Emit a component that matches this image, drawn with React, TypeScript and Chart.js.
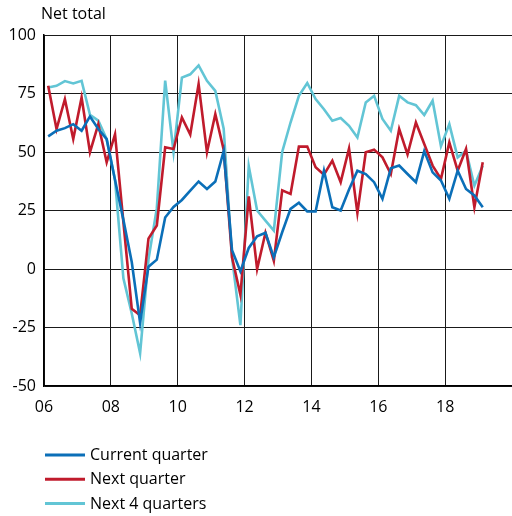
import React, { useEffect, useRef } from 'react';
import { Chart, registerables } from 'chart.js';

Chart.register(...registerables);

// Quarterly observations 2006Q1 .. 2019Q1
const quarterLabels: string[] = [
  '2006Q1','2006Q2','2006Q3','2006Q4','2007Q1','2007Q2','2007Q3','2007Q4',
  '2008Q1','2008Q2','2008Q3','2008Q4','2009Q1','2009Q2','2009Q3','2009Q4',
  '2010Q1','2010Q2','2010Q3','2010Q4','2011Q1','2011Q2','2011Q3','2011Q4',
  '2012Q1','2012Q2','2012Q3','2012Q4','2013Q1','2013Q2','2013Q3','2013Q4',
  '2014Q1','2014Q2','2014Q3','2014Q4','2015Q1','2015Q2','2015Q3','2015Q4',
  '2016Q1','2016Q2','2016Q3','2016Q4','2017Q1','2017Q2','2017Q3','2017Q4',
  '2018Q1','2018Q2','2018Q3','2018Q4','2019Q1',
];

const currentQuarter: number[] = [
  56.7, 59.1, 60.2, 61.9, 59.1, 65.2, 59.8, 55.5,
  38, 21, 3, -23, 1, 4, 22, 26.5,
  29.5, 33.5, 37.4, 34.2, 37.4, 50.4, 8, -1,
  9, 14, 15.5, 5, 15.7, 25.7, 28.3, 24.6,
  24.6, 42, 26.4, 25, 34, 42, 40.6, 37.1,
  30, 43, 44.2, 40.6, 37.1, 50.4, 41.3, 37.8,
  30, 42, 34.2, 31.4, 26.4,
];

const nextQuarter: number[] = [
  78.3, 59.8, 72.6, 55.5, 73.3, 49.9, 61.9, 45.6,
  57.6, 20, -17, -19.8, 13, 18.6, 52, 51.3,
  64.8, 57.5, 79, 49.9, 66.2, 51, 5, -11,
  31, 0, 15.5, 3.5, 33.6, 32.1, 52.3, 52.3,
  43.5, 40.3, 46.3, 37.1, 51.5, 24, 49.9, 51,
  47.7, 40.6, 59.8, 49, 62.6, 53.4, 44.2, 38.5,
  54.1, 42, 51.3, 26.4, 45.6,
];

const next4Quarters: number[] = [
  77.6, 78.3, 80.3, 79.3, 80.4, 65.9, 63.4, 55.5,
  38, -4, -19, -36, 4, 26, 80.5, 50,
  81.8, 83.2, 87, 80.4, 76.1, 60, 5, -24,
  44, 25, 20.7, 16.4, 50, 62.6, 74, 79.5,
  72.6, 68.3, 63.4, 64.5, 61.2, 56.2, 71.2, 74,
  64.1, 59.1, 74, 71.2, 70, 65.8, 71.9, 52.5,
  61.9, 47.7, 50.5, 35.6, 44.1,
];

const seriesNames: string[] = ['Current quarter', 'Next quarter', 'Next 4 quarters'];
const seriesColors: string[] = ['#0B6FB8', '#C01B2C', '#62C5D5'];
const xTickYears: number[] = [2006, 2008, 2010, 2012, 2014, 2016, 2018];
const xTickLabels: string[] = ['06', '08', '10', '12', '14', '16', '18'];
const yTicks: number[] = [-50, -25, 0, 25, 50, 75, 100];
const yAxisTitle = 'Net total';

const FONT = '"Open Sans", "Noto Sans", sans-serif';

function quarterToX(label: string): number {
  const year = parseInt(label.slice(0, 4), 10);
  const q = parseInt(label.slice(5), 10);
  return year + (q - 0.5) / 4;
}

function toPoints(values: number[]) {
  return values.map((v, i) => ({ x: quarterToX(quarterLabels[i]), y: v }));
}

const overlayPlugin = {
  id: 'overlayText',
  afterDraw(chart: any) {
    const ctx = chart.ctx as CanvasRenderingContext2D;
    ctx.save();
    ctx.fillStyle = '#000';
    ctx.font = `16px ${FONT}`;
    ctx.textBaseline = 'middle';
    ctx.textAlign = 'left';
    ctx.fillText(yAxisTitle, 41, 14);
    chart.data.datasets.forEach((ds: any, i: number) => {
      const y = 455 + i * 24.3;
      ctx.strokeStyle = ds.borderColor;
      ctx.lineWidth = 3;
      ctx.beginPath();
      ctx.moveTo(45, y);
      ctx.lineTo(85, y);
      ctx.stroke();
      ctx.fillText(ds.label, 90, y + 0.5);
    });
    ctx.restore();
  },
};

export default function App() {
  const canvasRef = useRef<HTMLCanvasElement | null>(null);

  useEffect(() => {
    if (!canvasRef.current) return;
    const seriesValues = [currentQuarter, nextQuarter, next4Quarters];
    const chart = new Chart(canvasRef.current, {
      type: 'line',
      data: {
        datasets: seriesValues.map((vals, i) => ({
          label: seriesNames[i],
          data: toPoints(vals),
          borderColor: seriesColors[i],
          backgroundColor: seriesColors[i],
          borderWidth: 2.6,
          pointRadius: 0,
          tension: 0,
          fill: false,
        })),
      },
      options: {
        animation: false,
        responsive: false,
        devicePixelRatio: 1,
        layout: { padding: { top: 35, right: 0, bottom: 90, left: 0 } },
        plugins: {
          legend: { display: false },
          tooltip: { enabled: false },
          title: { display: false },
        },
        scales: {
          x: {
            type: 'linear',
            min: 2006,
            max: 2020,
            afterBuildTicks: (scale: any) => {
              scale.ticks = xTickYears.map((v) => ({ value: v }));
            },
            afterFit: (scale: any) => {
              scale.height = 40;
            },
            ticks: {
              padding: 12,
              color: '#000',
              font: { family: FONT, size: 16 },
              maxRotation: 0,
              autoSkip: false,
              callback: (value: any) => {
                const idx = xTickYears.indexOf(Number(value));
                return idx >= 0 ? xTickLabels[idx] : '';
              },
            },
            grid: { color: '#1a1a1a', lineWidth: 1, drawTicks: false },
            border: { display: true, color: '#000', width: 1.5 },
          },
          y: {
            type: 'linear',
            min: -50,
            max: 100,
            afterBuildTicks: (scale: any) => {
              scale.ticks = yTicks.map((v) => ({ value: v }));
            },
            afterFit: (scale: any) => {
              scale.width = 44;
            },
            ticks: {
              padding: 8,
              color: '#000',
              font: { family: FONT, size: 16 },
            },
            grid: { color: '#1a1a1a', lineWidth: 1, drawTicks: false },
            border: { display: true, color: '#000', width: 1.5 },
          },
        },
      },
      plugins: [overlayPlugin],
    } as any);
    return () => chart.destroy();
  }, []);

  return (
    <div style={{ position: 'fixed', left: 0, top: 0, width: 512, height: 516, background: '#fff' }}>
      <canvas ref={canvasRef} width={512} height={516} style={{ width: 512, height: 516, display: 'block' }} />
    </div>
  );
}
